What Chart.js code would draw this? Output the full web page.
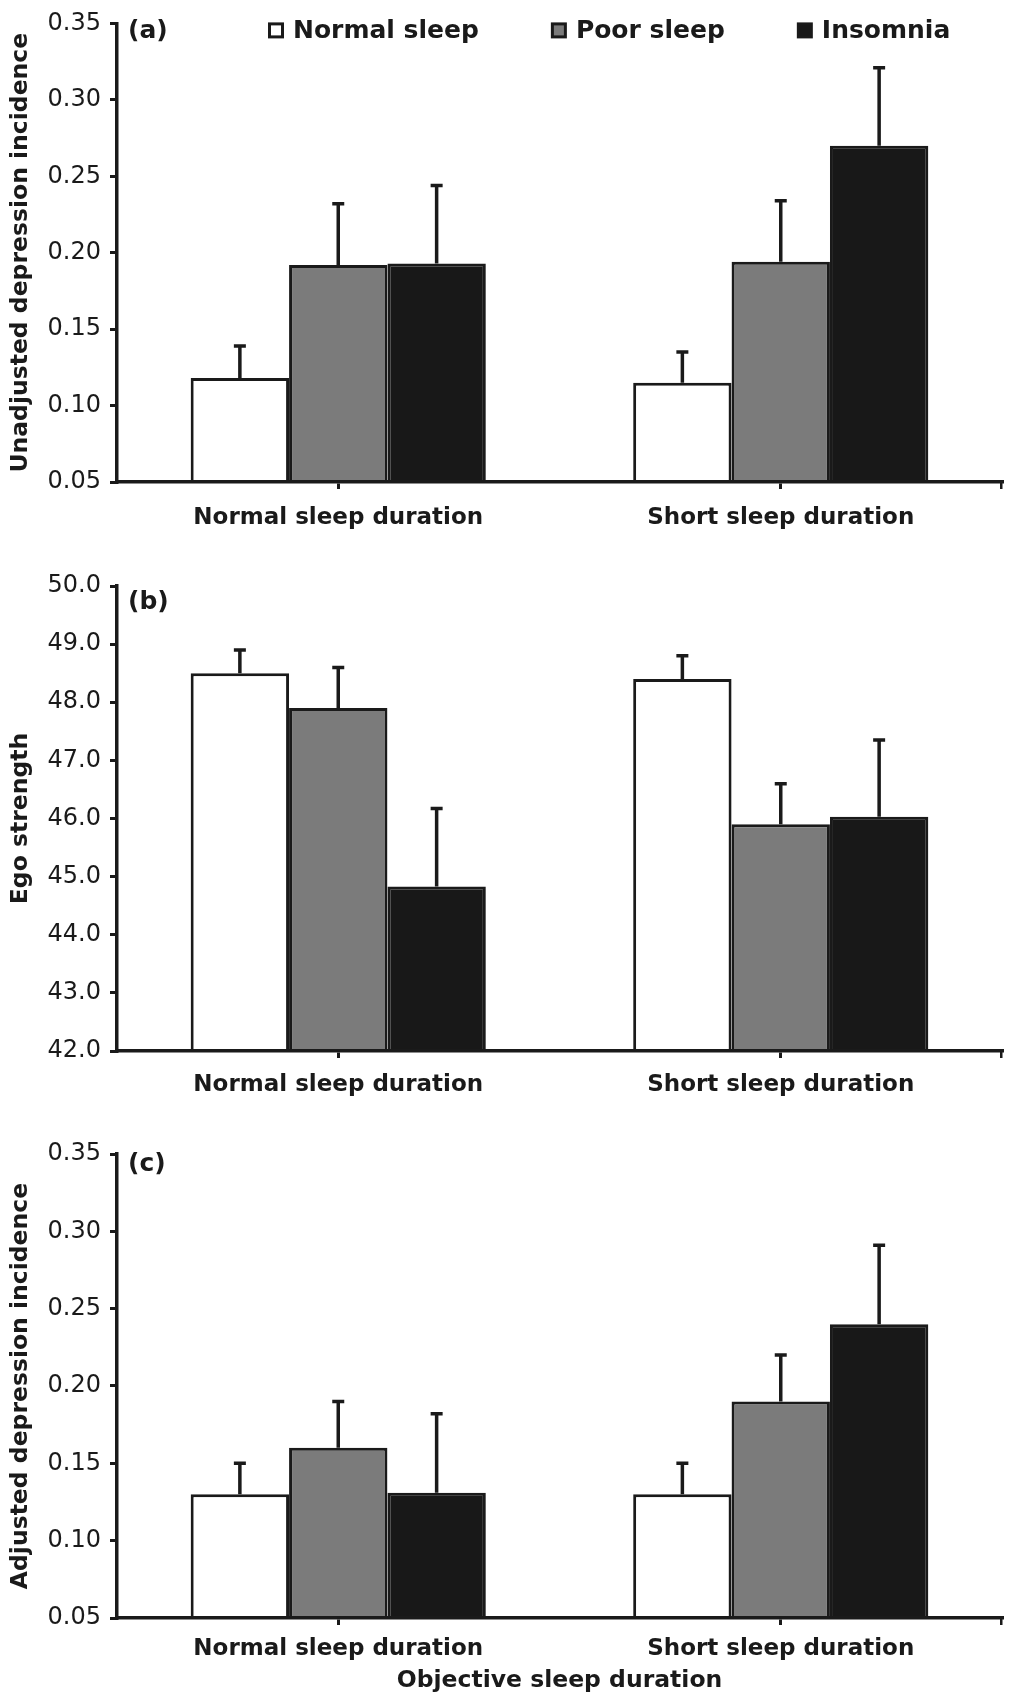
<!DOCTYPE html>
<html>
<head>
<meta charset="utf-8">
<script src="https://cdn.jsdelivr.net/npm/chart.js@4.4.1/dist/chart.umd.min.js"></script>
<style>
  body { margin: 0; background: #fff; }
  canvas { display: block; }
</style>
</head>
<body>
<canvas id="chartA" width="1015" height="545"></canvas>
<canvas id="chartB" width="1015" height="565"></canvas>
<canvas id="chartC" width="1015" height="595"></canvas>
<script>
// Categories and sleep groups
const categories = ["Normal sleep duration", "Short sleep duration"];
const groups = ["Normal sleep", "Poor sleep", "Insomnia"];

// (a) Unadjusted depression incidence, means and standard errors
const unadjNormal = [0.118, 0.115];
const unadjPoor = [0.192, 0.194];
const unadjInsomnia = [0.193, 0.270];
const unadjNormalErr = [0.021, 0.020];
const unadjPoorErr = [0.040, 0.040];
const unadjInsomniaErr = [0.051, 0.051];
const unadjTicks = [0.05, 0.35, 0.05]; // min, max, step

// (b) Ego strength
const egoNormal = [48.5, 48.4];
const egoPoor = [47.9, 45.9];
const egoInsomnia = [44.83, 46.03];
const egoNormalErr = [0.4, 0.4];
const egoPoorErr = [0.7, 0.7];
const egoInsomniaErr = [1.34, 1.32];
const egoTicks = [42, 50, 1];

// (c) Adjusted depression incidence
const adjNormal = [0.130, 0.130];
const adjPoor = [0.160, 0.190];
const adjInsomnia = [0.131, 0.240];
const adjNormalErr = [0.020, 0.020];
const adjPoorErr = [0.030, 0.030];
const adjInsomniaErr = [0.051, 0.051];
const adjTicks = [0.05, 0.35, 0.05];

const ink = "#1a1a1a";
const fills = ["#ffffff", "#7b7b7b", "#181818"];
const fontFamily = "'DejaVu Sans', sans-serif";

// Upward-only error bars drawn from the bar top through the y scale
const errorBars = {
    id: "errorBars",
    afterDatasetsDraw(chart, args, opts) {
        const ctx = chart.ctx;
        const yScale = chart.scales.y;
        ctx.save();
        ctx.strokeStyle = ink;
        ctx.lineWidth = opts.width;
        chart.data.datasets.forEach((ds, i) => {
            chart.getDatasetMeta(i).data.forEach((bar, j) => {
                const top = yScale.getPixelForValue(ds.data[j] + ds.errors[j]);
                ctx.beginPath();
                ctx.moveTo(bar.x, bar.y);
                ctx.lineTo(bar.x, top);
                ctx.moveTo(bar.x - opts.cap / 2, top);
                ctx.lineTo(bar.x + opts.cap / 2, top);
                ctx.stroke();
            });
        });
        ctx.restore();
    }
};

// Panel letter, the in-plot legend and the closing tick at the axis end
const panelExtras = {
    id: "panelExtras",
    afterDraw(chart, args, opts) {
        const ctx = chart.ctx;
        const area = chart.chartArea;
        ctx.save();
        ctx.fillStyle = ink;
        ctx.fillRect(area.right - 2, area.bottom, 2.5, 7);

        ctx.textBaseline = "middle";
        ctx.font = "bold 25px " + fontFamily;
        ctx.fillText(opts.tag, area.left + 11, area.top + opts.tagY);

        if (opts.legend) {
            const s = 16;
            const y = area.top + 7;
            let x = area.left + 151;
            chart.data.datasets.forEach(ds => {
                ctx.fillStyle = ink;
                ctx.fillRect(x, y - s / 2, s, s);
                ctx.fillStyle = ds.backgroundColor;
                ctx.fillRect(x + 3, y - s / 2 + 3, s - 6, s - 6);
                ctx.fillStyle = ink;
                ctx.fillText(ds.label, x + s + 9, y + 1);
                x += s + 9 + ctx.measureText(ds.label).width + 72;
            });
        }
        ctx.restore();
    }
};

function makeChart(id, series, errors, ticks, opts) {
    const ctx = document.getElementById(id).getContext("2d");
    return new Chart(ctx, {
        type: "bar",
        data: {
            labels: categories,
            datasets: groups.map((g, i) => ({
                label: g,
                data: series[i],
                errors: errors[i],
                backgroundColor: fills[i],
                borderColor: ink,
                borderWidth: 3,
                borderSkipped: "start",
                categoryPercentage: 0.667,
                barPercentage: 1.0
            }))
        },
        options: {
            responsive: false,
            animation: false,
            layout: { padding: { top: opts.top, right: 13, left: 0, bottom: 0 } },
            plugins: {
                legend: { display: false },
                tooltip: { enabled: false },
                errorBars: { width: 3.5, cap: 12 },
                panelExtras: { tag: opts.tag, tagY: opts.tagY, legend: opts.legend }
            },
            scales: {
                x: {
                    afterFit: s => { s.height = opts.xHeight; },
                    grid: {
                        display: true, drawOnChartArea: false, offset: false,
                        tickLength: 7, lineWidth: 3, color: ink
                    },
                    border: { display: true, width: 3.5, color: ink, z: 1 },
                    ticks: {
                        color: ink, padding: opts.xPad,
                        font: { family: fontFamily, size: 23, weight: "bold" }
                    },
                    title: {
                        display: !!opts.xTitle,
                        text: opts.xTitle || "",
                        color: ink,
                        padding: { top: 0, bottom: 10 },
                        font: { family: fontFamily, size: 23.5, weight: "bold" }
                    }
                },
                y: {
                    min: ticks[0],
                    max: ticks[1],
                    afterFit: s => { s.width = 117; },
                    grid: {
                        display: true, drawOnChartArea: false,
                        tickLength: 7, lineWidth: 3, color: ink
                    },
                    border: { display: true, width: 3.5, color: ink, z: 1 },
                    ticks: {
                        stepSize: ticks[2],
                        color: ink,
                        padding: 9,
                        font: { family: fontFamily, size: 24 },
                        callback: v => Number(v).toFixed(opts.decimals)
                    },
                    title: {
                        display: true,
                        text: opts.yTitle,
                        color: ink,
                        padding: { top: 7, bottom: 0 },
                        font: { family: fontFamily, size: 23.5, weight: "bold" }
                    }
                }
            }
        },
        plugins: [errorBars, panelExtras]
    });
}

makeChart("chartA",
    [unadjNormal, unadjPoor, unadjInsomnia],
    [unadjNormalErr, unadjPoorErr, unadjInsomniaErr],
    unadjTicks,
    { top: 22, xHeight: 63, xPad: 15, decimals: 2, tag: "(a)", tagY: 8, legend: true,
      yTitle: "Unadjusted depression incidence" });

makeChart("chartB",
    [egoNormal, egoPoor, egoInsomnia],
    [egoNormalErr, egoPoorErr, egoInsomniaErr],
    egoTicks,
    { top: 41, xHeight: 59, xPad: 13, decimals: 1, tag: "(b)", tagY: 16, legend: false,
      yTitle: "Ego strength" });

makeChart("chartC",
    [adjNormal, adjPoor, adjInsomnia],
    [adjNormalErr, adjPoorErr, adjInsomniaErr],
    adjTicks,
    { top: 44, xHeight: 87, xPad: 10, decimals: 2, tag: "(c)", tagY: 10, legend: false,
      yTitle: "Adjusted depression incidence", xTitle: "Objective sleep duration" });
</script>
</body>
</html>
